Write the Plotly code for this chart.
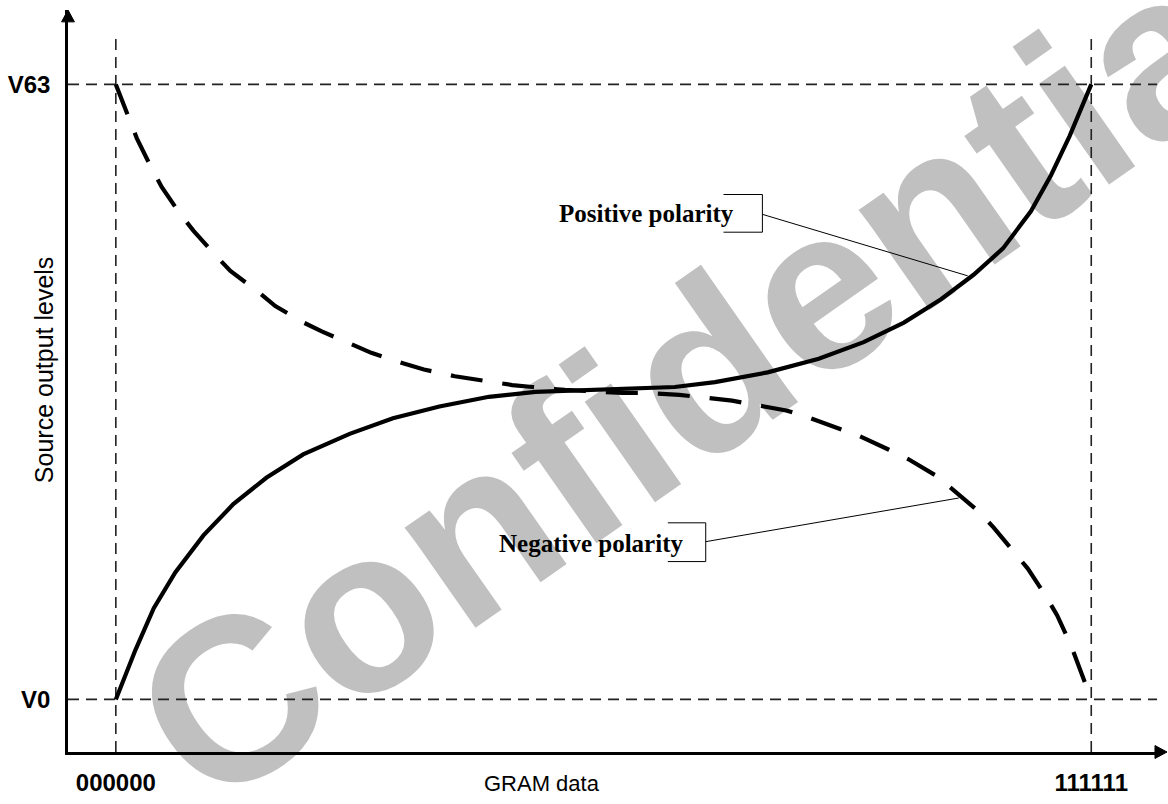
import plotly.graph_objects as go

# GRAM data code (0..63) vs source output level (V0..V63)
positive_x = [0, 1.27, 2.45, 3.84, 5.66, 7.59, 9.72, 12.1, 15.1, 17.9, 20.9, 24.1, 27.1,
              30.6, 33.5, 36.1, 38.7, 41.2, 42.1, 45.4, 48.3, 50.9, 53.3, 55.4, 57.3,
              59.1, 60.4, 61.6, 63]
positive_y = [0, 5.08, 9.35, 13.0, 16.8, 20.0, 22.7, 25.1, 27.2, 28.8, 30.0, 31.0, 31.5,
              31.7, 31.8, 32.0, 32.5, 33.3, 33.5, 34.9, 36.6, 38.6, 41.0, 43.5, 46.2,
              50.0, 53.7, 57.7, 63]

negative_x = [0, 0.84, 1.35, 2.25, 2.96, 4.12, 5.02, 6.43, 7.4, 9.07, 10.3, 12.0, 13.3,
              15.2, 16.5, 18.6, 19.9, 21.9, 23.4, 25.6, 26.9, 29.0, 32.7, 34.2, 36.4,
              37.6, 39.8, 41.2, 43.3, 44.7, 46.7, 48.0, 49.9, 51.2, 53.0, 54.1, 55.7,
              56.7, 58.0, 58.9, 60.1, 60.8, 61.7, 62.2, 63]
negative_y = [63, 59.6, 57.5, 54.6, 52.5, 49.8, 48.0, 45.5, 43.9, 41.9, 40.3, 38.7, 37.7,
              36.4, 35.5, 34.4, 33.8, 33.1, 32.7, 32.2, 32.0, 31.7, 31.4, 31.4, 31.2,
              31.0, 30.6, 30.2, 29.6, 28.9, 27.8, 27.0, 25.6, 24.6, 22.9, 21.4, 19.3,
              17.6, 15.1, 13.4, 10.5, 8.6, 5.5, 3.4, 0]

x_ticks = [0, 63]
x_ticktext = ["000000", "111111"]
y_ticks = [0, 63]
y_ticktext = ["V0", "V63"]

X_RANGE = [-3.089, 67.44]
Y_RANGE = [-5.386, 70.62]

fig = go.Figure()

fig.add_trace(go.Scatter(x=positive_x, y=positive_y, mode="lines",
                         line=dict(color="black", width=4.2), name="Positive polarity",
                         showlegend=False, hoverinfo="skip"))
fig.add_trace(go.Scatter(x=negative_x, y=negative_y, mode="lines",
                         line=dict(color="black", width=4.2, dash="32px,20px"),
                         name="Negative polarity", showlegend=False, hoverinfo="skip"))

ref = dict(color="#222222", width=1.6, dash="11px,7px")
shapes = [
    # level guides
    dict(type="line", xref="x", yref="y", x0=X_RANGE[0], x1=67.25, y0=63, y1=63, line=ref, layer="below"),
    dict(type="line", xref="x", yref="y", x0=X_RANGE[0], x1=67.25, y0=0, y1=0, line=ref, layer="below"),
    dict(type="line", xref="x", yref="y", x0=0, x1=0, y0=Y_RANGE[0], y1=67.9, line=ref, layer="below"),
    dict(type="line", xref="x", yref="y", x0=63, x1=63, y0=Y_RANGE[0], y1=67.9, line=ref, layer="below"),
    # callout brackets and leaders
    dict(type="path", xref="x", yref="y",
         path="M 39.25 51.72 L 41.76 51.72 L 41.76 47.86 L 39.25 47.86",
         line=dict(color="black", width=1)),
    dict(type="line", xref="x", yref="y", x0=41.76, y0=49.69, x1=55.02, y1=43.39,
         line=dict(color="black", width=1)),
    dict(type="path", xref="x", yref="y",
         path="M 35.65 18.09 L 38.10 18.09 L 38.10 14.12 L 35.65 14.12",
         line=dict(color="black", width=1)),
    dict(type="line", xref="x", yref="y", x0=38.10, y0=16.16, x1=54.44, y1=20.63,
         line=dict(color="black", width=1)),
    # axis arrowheads
    dict(type="path", xref="paper", yref="paper",
         path="M 1.0064 0 L 0.9954 0.0087 L 0.9954 -0.0087 Z",
         fillcolor="black", line=dict(color="black", width=1)),
    dict(type="path", xref="paper", yref="paper",
         path="M 0 1.0 L -0.0059 0.984 L 0.0059 0.984 Z",
         fillcolor="black", line=dict(color="black", width=1)),
    # watermark
    dict(type="rect", xref="paper", yref="paper", x0=0.576, x1=0.580, y0=0.545, y1=0.549,
         line=dict(width=0), fillcolor="rgba(0,0,0,0)", layer="below",
         label=dict(text="Confidential", textangle=-35, textposition="middle center",
                    font=dict(family="Liberation Sans", size=232, color="#c0c0c0",
                              weight="bold"))),
]

annotations = [
    dict(text="<b>Positive polarity</b>", x=34.3, y=49.8, xref="x", yref="y",
         xanchor="center", yanchor="middle", showarrow=False,
         font=dict(family="Liberation Serif", size=25, color="black")),
    dict(text="<b>Negative polarity</b>", x=30.7, y=15.95, xref="x", yref="y",
         xanchor="center", yanchor="middle", showarrow=False,
         font=dict(family="Liberation Serif", size=25, color="black")),
    dict(text="GRAM data", x=0.4343, y=-0.0428, xref="paper", yref="paper",
         xanchor="center", yanchor="middle", showarrow=False,
         font=dict(family="Liberation Sans", size=22, color="black")),
    dict(text="Source output levels", x=-0.0219, y=0.5147, xref="paper", yref="paper",
         xanchor="center", yanchor="middle", textangle=-90, showarrow=False,
         font=dict(family="Liberation Sans", size=25, color="black")),
]

axis_common = dict(showgrid=False, zeroline=False, showline=True, linecolor="black",
                   linewidth=2.5, ticks="", fixedrange=True,
                   tickfont=dict(family="Liberation Sans", size=24, color="black"))

fig.update_layout(
    width=1168, height=804,
    margin=dict(l=64, r=8, t=10, b=46),
    paper_bgcolor="white", plot_bgcolor="rgba(0,0,0,0)",
    xaxis=dict(range=X_RANGE, tickvals=x_ticks,
               ticktext=[f"<b>{t}</b>" for t in x_ticktext], ticklabelstandoff=7,
               **axis_common),
    yaxis=dict(range=Y_RANGE, tickvals=y_ticks,
               ticktext=[f"<b>{t}</b>" for t in y_ticktext], ticklabelstandoff=10,
               **axis_common),
    shapes=shapes, annotations=annotations, showlegend=False,
)

fig.write_html("out.html")
